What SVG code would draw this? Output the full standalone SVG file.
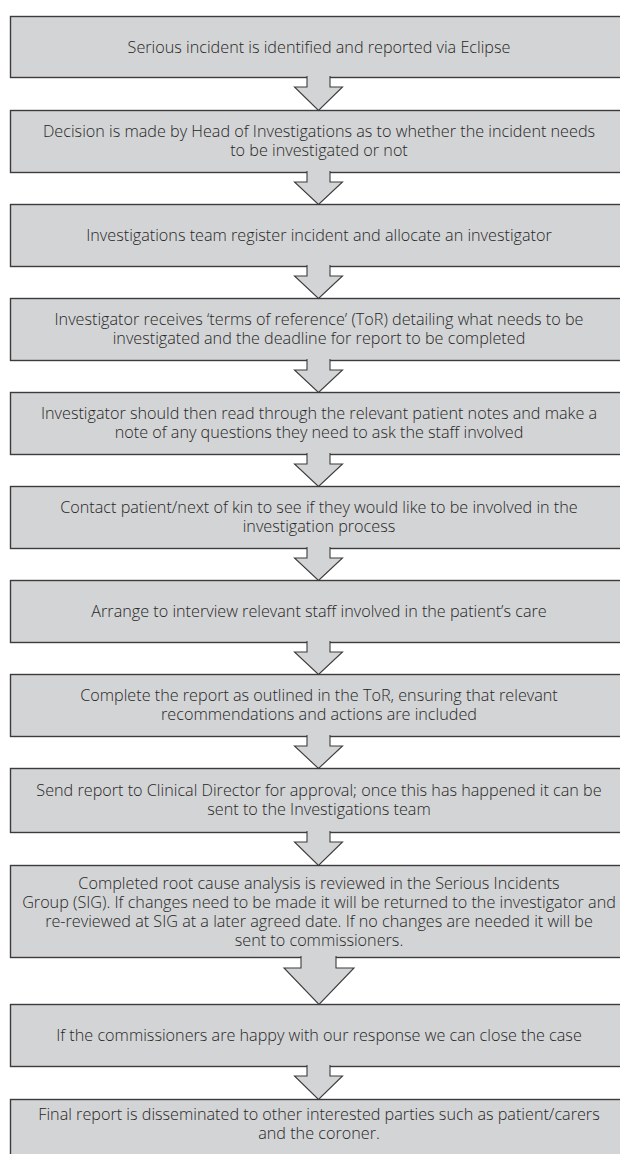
<svg xmlns="http://www.w3.org/2000/svg" width="620" height="1154" viewBox="0 0 620 1154">
<style>
.box{fill:#d3d4d5;stroke:#3c3c3c;stroke-width:1.4}
.arr{fill:#d3d4d5;stroke:#3c3c3c;stroke-width:1.1;stroke-linejoin:miter}
.t{font-family:"Open Sans","Noto Sans","Liberation Sans",sans-serif;font-size:16.2px;font-weight:300;fill:#262626;text-anchor:middle}
</style>
<rect width="620" height="1154" fill="#ffffff"/>
<g id="n1"><rect class="box" x="10.5" y="16.5" width="618" height="61"/><text class="t" x="319" y="52.5">Serious incident is identified and reported via Eclipse</text></g>
<g id="n2"><rect class="box" x="10.5" y="110.5" width="618" height="62"/><text class="t" x="319" y="137">Decision is made by Head of Investigations as to whether the incident needs<tspan x="319" dy="19">to be investigated or not</tspan></text></g>
<g id="n3"><rect class="box" x="10.5" y="204.5" width="618" height="62"/><text class="t" x="319" y="240.5">Investigations team register incident and allocate an investigator</text></g>
<g id="n4"><rect class="box" x="10.5" y="298.5" width="618" height="62"/><text class="t" x="319" y="325">Investigator receives ‘terms of reference’ (ToR) detailing what needs to be<tspan x="319" dy="19">investigated and the deadline for report to be completed</tspan></text></g>
<g id="n5"><rect class="box" x="10.5" y="392.5" width="618" height="62"/><text class="t" x="319" y="419">Investigator should then read through the relevant patient notes and make a<tspan x="319" dy="19">note of any questions they need to ask the staff involved</tspan></text></g>
<g id="n6"><rect class="box" x="10.5" y="486.5" width="618" height="62"/><text class="t" x="319" y="513">Contact patient/next of kin to see if they would like to be involved in the<tspan x="319" dy="19">investigation process</tspan></text></g>
<g id="n7"><rect class="box" x="10.5" y="580.5" width="618" height="62"/><text class="t" x="319" y="616.5">Arrange to interview relevant staff involved in the patient’s care</text></g>
<g id="n8"><rect class="box" x="10.5" y="674.5" width="618" height="62"/><text class="t" x="319" y="701">Complete the report as outlined in the ToR, ensuring that relevant<tspan x="319" dy="19">recommendations and actions are included</tspan></text></g>
<g id="n9"><rect class="box" x="10.5" y="768.5" width="618" height="64"/><text class="t" x="319" y="796">Send report to Clinical Director for approval; once this has happened it can be<tspan x="319" dy="19">sent to the Investigations team</tspan></text></g>
<g id="n10"><rect class="box" x="10.5" y="865.5" width="618" height="92"/><text class="t" x="319" y="888.5">Completed root cause analysis is reviewed in the Serious Incidents<tspan x="319" dy="19">Group (SIG). If changes need to be made it will be returned to the investigator and</tspan><tspan x="319" dy="19">re-reviewed at SIG at a later agreed date. If no changes are needed it will be</tspan><tspan x="319" dy="19">sent to commissioners.</tspan></text></g>
<g id="n11"><rect class="box" x="10.5" y="1004.5" width="618" height="62"/><text class="t" x="319" y="1040.5">If the commissioners are happy with our response we can close the case</text></g>
<g id="n12"><rect class="box" x="10.5" y="1099.5" width="618" height="70"/><text class="t" x="319" y="1120">Final report is disseminated to other interested parties such as patient/carers<tspan x="319" dy="19">and the coroner.</tspan></text></g>
<g id="connectors">
<path class="arr" d="M307,76 V87 H294.5 L318.5,110.5 L342.5,87 H330 V76"/>
<path class="arr" d="M307,171 V182 H294.5 L318.5,204.5 L342.5,182 H330 V171"/>
<path class="arr" d="M307,265 V276 H294.5 L318.5,298.5 L342.5,276 H330 V265"/>
<path class="arr" d="M307,359 V370 H294.5 L318.5,392.5 L342.5,370 H330 V359"/>
<path class="arr" d="M307,453 V464 H294.5 L318.5,486.5 L342.5,464 H330 V453"/>
<path class="arr" d="M307,547 V558 H294.5 L318.5,580.5 L342.5,558 H330 V547"/>
<path class="arr" d="M307,641 V652 H294.5 L318.5,674.5 L342.5,652 H330 V641"/>
<path class="arr" d="M307,735 V746 H294.5 L318.5,768.5 L342.5,746 H330 V735"/>
<path class="arr" d="M307,831 V842 H294.5 L318.5,865.5 L342.5,842 H330 V831"/>
<path class="arr" d="M301,956 V968 H284 L319,1004.5 L354,968 H336 V956"/>
<path class="arr" d="M307,1065 V1076 H294.5 L318.5,1099.5 L342.5,1076 H330 V1065"/>
</g>
</svg>
